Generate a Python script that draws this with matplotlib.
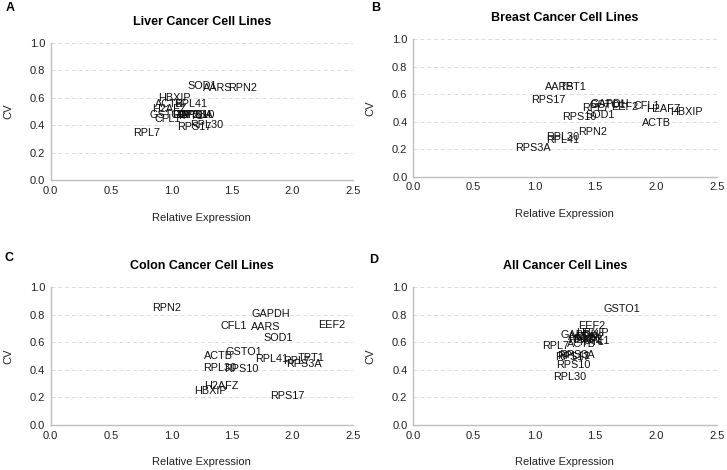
import matplotlib
matplotlib.use("Agg")
import matplotlib.pyplot as plt

plt.rcParams['font.family'] = ['Liberation Sans', 'DejaVu Sans']

# Liver cancer cell lines
liver_genes = ['SOD1', 'AARS', 'RPN2', 'HBXIP', 'ACTB', 'RPL41', 'H2AFZ', 'GSTO1',
               'EEF2', 'GAPDH', 'TPT1', 'RPS3A', 'RPS10', 'CFL1', 'RPS17', 'RPL30', 'RPL7']
liver_x = [1.25, 1.38, 1.59, 1.02, 0.98, 1.16, 0.98, 0.97,
           1.12, 1.17, 1.15, 1.19, 1.21, 0.97, 1.19, 1.29, 0.79]
liver_y = [0.688, 0.668, 0.671, 0.600, 0.554, 0.552, 0.516, 0.475,
           0.476, 0.478, 0.470, 0.472, 0.475, 0.450, 0.390, 0.403, 0.346]

# Breast cancer cell lines
breast_genes = ['AARS', 'TPT1', 'RPS17', 'GAPDH', 'GSTO1', 'RPL7', 'EEF2', 'CFL1', 'H2AFZ',
                'HBXIP', 'SOD1', 'RPS10', 'ACTB', 'RPN2', 'RPL30', 'RPL41', 'RPS3A']
breast_x = [1.21, 1.32, 1.11, 1.62, 1.60, 1.50, 1.74, 1.92, 2.06,
            2.25, 1.54, 1.37, 2.00, 1.48, 1.23, 1.23, 0.99]
breast_y = [0.653, 0.648, 0.558, 0.527, 0.520, 0.498, 0.505, 0.515, 0.493,
            0.473, 0.447, 0.432, 0.388, 0.325, 0.286, 0.267, 0.209]

# Colon cancer cell lines
colon_genes = ['RPN2', 'GAPDH', 'CFL1', 'AARS', 'EEF2', 'SOD1', 'ACTB', 'GSTO1', 'RPL41',
               'RPL7', 'TPT1', 'RPS3A', 'RPL30', 'RPS10', 'H2AFZ', 'HBXIP', 'RPS17']
colon_x = [0.96, 1.82, 1.51, 1.78, 2.32, 1.88, 1.39, 1.60, 1.83,
           2.03, 2.15, 2.09, 1.40, 1.58, 1.41, 1.32, 1.96]
colon_y = [0.852, 0.809, 0.722, 0.709, 0.729, 0.634, 0.504, 0.528, 0.479,
           0.465, 0.489, 0.441, 0.416, 0.404, 0.286, 0.247, 0.211]

# All cancer cell lines
all_genes = ['GSTO1', 'EEF2', 'HBXIP', 'GAPDH', 'AARS', 'SOD1', 'RPN2', 'H2AFZ', 'CFL1',
             'TPT1', 'ACTB', 'RPL7', 'RPS3A', 'RPS17', 'RPL41', 'RPS10', 'RPL30']
all_x = [1.72, 1.47, 1.48, 1.37, 1.40, 1.43, 1.45, 1.42, 1.51,
         1.47, 1.39, 1.17, 1.35, 1.31, 1.32, 1.32, 1.29]
all_y = [0.839, 0.718, 0.670, 0.651, 0.640, 0.625, 0.640, 0.615, 0.607,
         0.600, 0.590, 0.571, 0.511, 0.494, 0.500, 0.434, 0.352]

panels = [
    ('A', 'Liver Cancer Cell Lines', liver_genes, liver_x, liver_y),
    ('B', 'Breast Cancer Cell Lines', breast_genes, breast_x, breast_y),
    ('C', 'Colon Cancer Cell Lines', colon_genes, colon_x, colon_y),
    ('D', 'All Cancer Cell Lines', all_genes, all_x, all_y),
]

fig = plt.figure(figsize=(7.27, 4.70), dpi=100)
positions = [[0.0697, 0.616, 0.416, 0.293],
             [0.568, 0.624, 0.418, 0.293],
             [0.0697, 0.0957, 0.416, 0.293],
             [0.568, 0.0957, 0.418, 0.293]]
letter_pos = [(0.008, 0.982), (0.510, 0.984), (0.006, 0.452), (0.508, 0.446)]

for (letter, title, genes, xs, ys), pos, lp in zip(panels, positions, letter_pos):
    ax = fig.add_axes(pos)
    for g, x, y in zip(genes, xs, ys):
        ax.text(x, y, g, ha='center', va='center', fontsize=7.8, color='#111111')
    ax.set_xlim(0, 2.5)
    ax.set_ylim(0, 1.0)
    ax.set_xticks([0, 0.5, 1.0, 1.5, 2.0, 2.5])
    ax.set_yticks([0, 0.2, 0.4, 0.6, 0.8, 1.0])
    ax.set_xticklabels(['0.0', '0.5', '1.0', '1.5', '2.0', '2.5'])
    ax.set_yticklabels(['0.0', '0.2', '0.4', '0.6', '0.8', '1.0'])
    ax.tick_params(length=0, labelsize=8, colors='#222222', pad=4)
    ax.yaxis.grid(True, linestyle=(0, (4, 3)), color='#dcdcdc', linewidth=0.7)
    ax.set_axisbelow(True)
    for s in ['top', 'right']:
        ax.spines[s].set_visible(False)
    for s in ['left', 'bottom']:
        ax.spines[s].set_color('#bfbfbf')
        ax.spines[s].set_linewidth(1.0)
    ax.set_xlabel('Relative Expression', fontsize=8, color='#222222', labelpad=12)
    ax.set_ylabel('CV', fontsize=8, color='#222222', labelpad=12)
    ax.set_title(title, fontsize=9, fontweight='bold', pad=13)
    fig.text(lp[0], lp[1], letter, fontsize=9, fontweight='bold', va='center')

fig.savefig('out.png', dpi=100)
